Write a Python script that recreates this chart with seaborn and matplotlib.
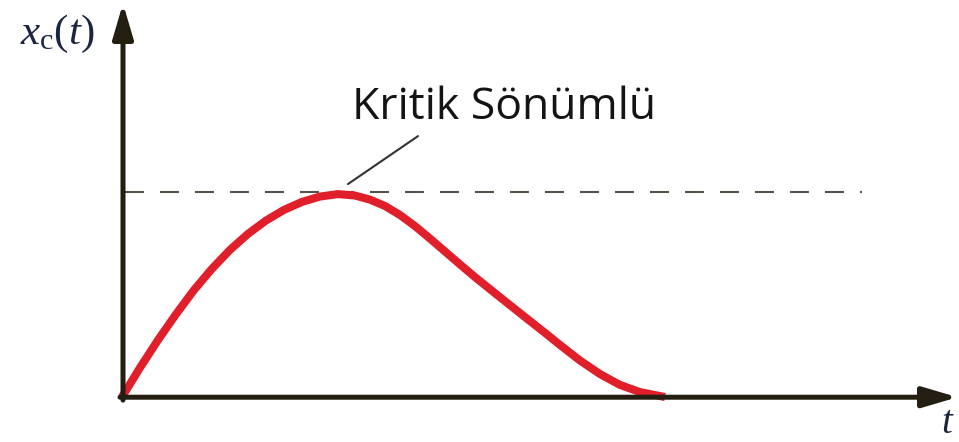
import matplotlib
matplotlib.use("Agg")
import matplotlib.pyplot as plt
import seaborn as sns
import pandas as pd

# Critically damped response samples (time, normalised amplitude)
t_vals = [0.00, 0.18, 0.36, 0.54, 0.72, 0.90, 1.08, 1.26, 1.44, 1.62, 1.80,
          1.98, 2.16, 2.33, 2.48, 2.63, 2.78, 2.93, 3.08, 3.23, 3.38, 3.53,
          3.78, 4.03, 4.23, 4.38, 4.58, 4.78, 4.98, 5.18, 5.43]
x_vals = [0.000, 0.143, 0.278, 0.404, 0.522, 0.626, 0.718, 0.796, 0.861,
          0.913, 0.952, 0.978, 0.990, 0.983, 0.963, 0.932, 0.888, 0.834,
          0.773, 0.710, 0.647, 0.585, 0.487, 0.390, 0.313, 0.254, 0.178,
          0.112, 0.059, 0.024, 0.000]
ref_level = 1.0
curve_label = "Kritik Sönümlü"
y_label = r"$x_{\mathrm{c}}(t)$"
t_label = r"$t$"

sns.set_theme(style="white")
plt.rcParams["mathtext.fontset"] = "custom"
plt.rcParams["mathtext.rm"] = "Liberation Serif"
plt.rcParams["mathtext.it"] = "Liberation Serif:italic"

fig = plt.figure(figsize=(9.59, 4.42), dpi=100)
ax = fig.add_axes([0, 0, 1, 1])
ax.set_xlim(-1.22, 8.37)
ax.set_ylim(-0.2195, 1.937)
ax.axis("off")

axis_col = "#231d12"

# reference level
ax.plot([0.03, 7.4], [ref_level, ref_level], color="#55524a", lw=1.5,
        linestyle=(0, (9.1, 7.7)), zorder=1)

# response curve
df = pd.DataFrame({"t": t_vals, "x": x_vals})
sns.lineplot(data=df, x="t", y="x", ax=ax, color="#e01f2b", lw=5.8,
             solid_capstyle="butt", solid_joinstyle="round", zorder=2)

# coordinate axes with arrow heads
arrow = dict(arrowstyle="-|>,head_length=2.1,head_width=0.62", lw=3.6,
             color=axis_col, shrinkA=0, shrinkB=0, mutation_scale=10)
ax.annotate("", xy=(8.355, -0.001), xytext=(-0.02, -0.001), arrowprops=arrow, zorder=3)
ax.annotate("", xy=(0.01, 1.92), xytext=(0.01, -0.015), arrowprops=arrow, zorder=3)

# label with leader line
ax.plot([2.26, 2.96], [1.039, 1.273], color="#333333", lw=1.5, zorder=1)
ax.text(2.30, 1.41, curve_label, fontsize=32, family="Open Sans", color="#141414",
        ha="left", va="center")

ax.text(-1.02, 1.77, y_label, fontsize=31, color="#1c2540", ha="left", va="center")
ax.text(8.26, -0.175, t_label, fontsize=28, color="#1c2540", ha="center",
        va="baseline")

fig.savefig("out.png", dpi=100)
